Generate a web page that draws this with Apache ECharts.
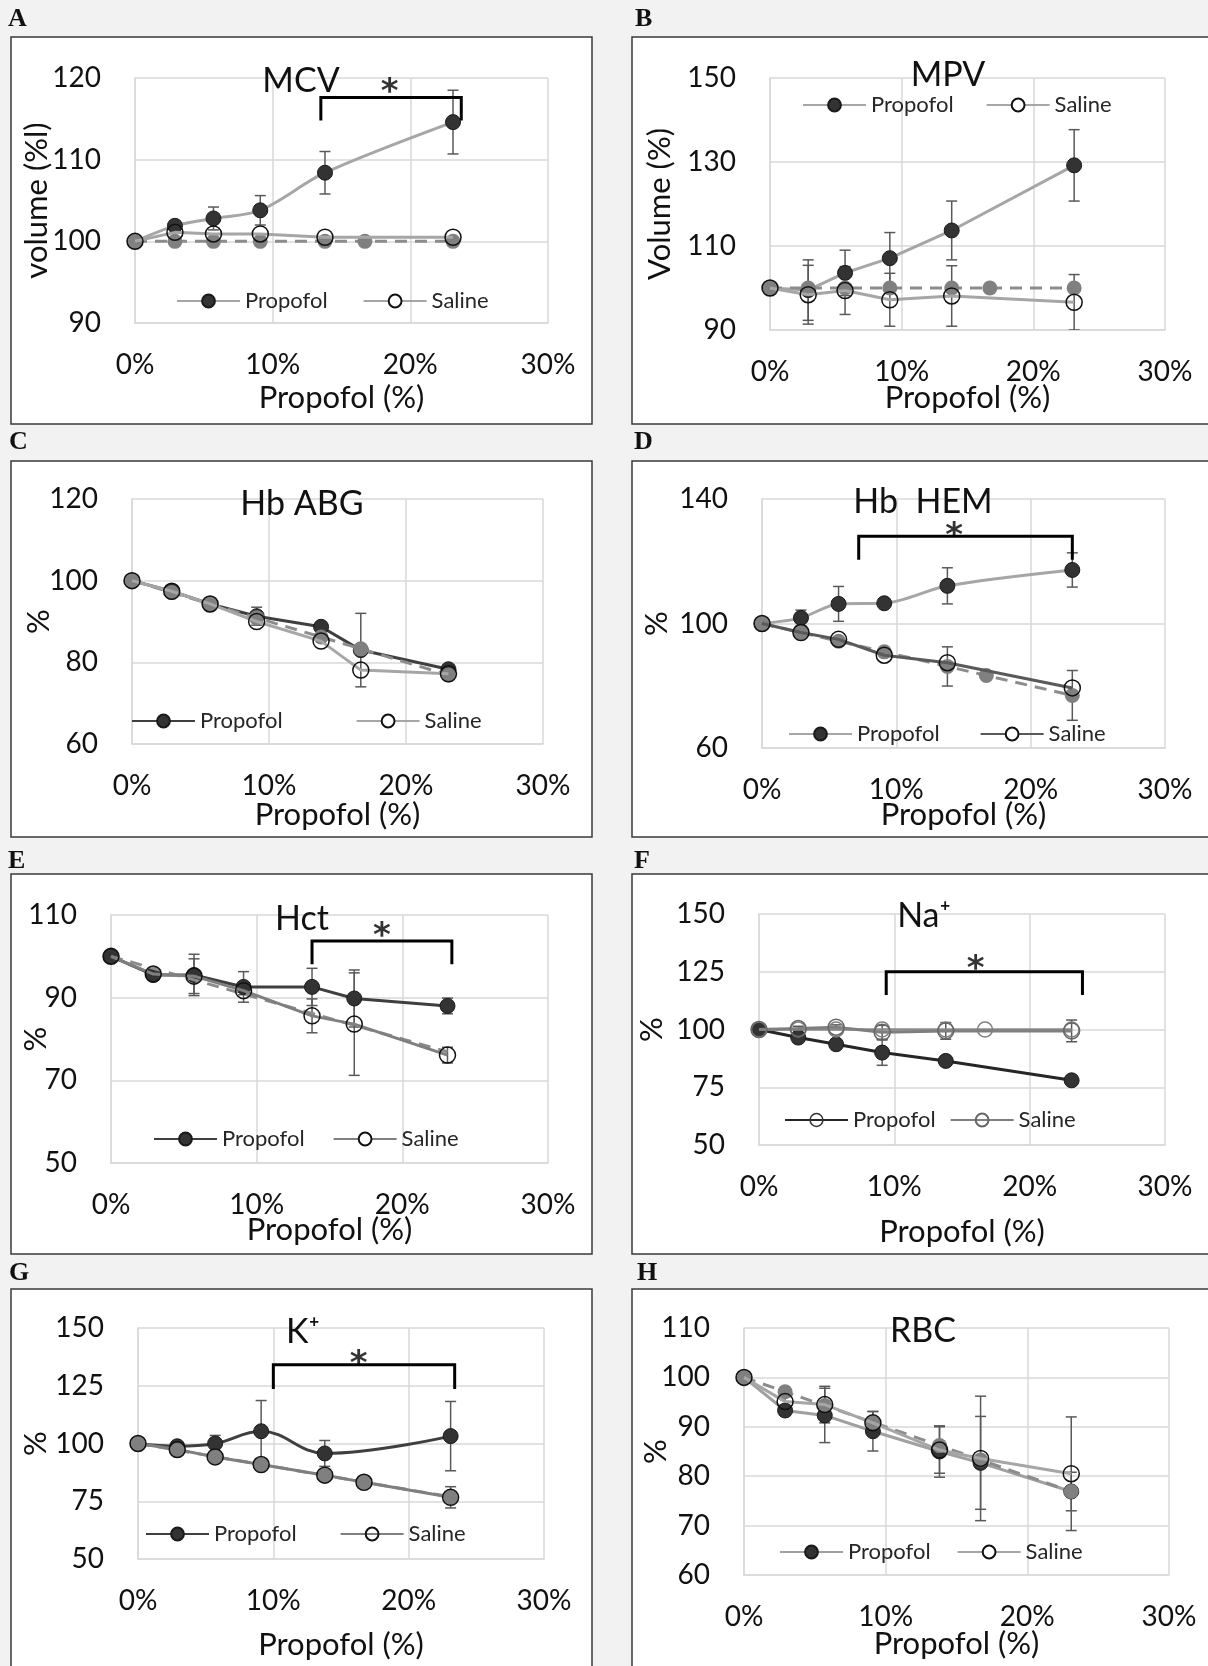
<!DOCTYPE html>
<html>
<head>
<meta charset="utf-8">
<script src="https://cdn.jsdelivr.net/npm/echarts@6/dist/echarts.min.js"></script>
<style>
  html, body { margin: 0; padding: 0; background: #f2f2f2; }
  #chart { width: 1208px; height: 1666px; }
</style>
</head>
<body>
<div id="chart"></div>
<script>
// propofol fraction of each sample (%), shared by all panels
const xPct = [0, 2.9, 5.7, 9.1, 13.8, 16.7, 23.1];

// reference lines (no change / pure dilution)
const flatRef = [100, 100, 100, 100, 100, 100, 100];
const dilutionRef = [100, 97.1, 94.3, 90.9, 86.2, 83.3, 76.9];

// A - MCV
const mcvPropofol = [100, 101.9, 102.8, 103.8, 108.4, null, 114.6];
const mcvPropofolSd = [0, 0.6, 1.4, 1.8, 2.6, 0, 3.9];
const mcvSaline = [100, 101.1, 100.9, 100.9, 100.5, null, 100.5];
const mcvBracket = [13.5, 23.7, 117.6, 114.8];
const mcvStar = [18.5, 119.6];

// B - MPV
const mpvPropofol = [100, 99.5, 103.6, 107.1, 113.7, null, 129.2];
const mpvPropofolSd = [0, 7.2, 5.4, 6.1, 7.0, 0, 8.5];
const mpvSaline = [100, 98.4, 99.4, 97.2, 98.1, null, 96.6];
const mpvSalineSd = [0, 7.0, 5.7, 6.3, 7.2, 0, 6.6];

// C - Hb ABG
const hbAbgPropofol = [100, 97.4, 94.3, 91.3, 88.7, 83.0, 78.3];
const hbAbgPropofolSd = [0, 0, 0, 2.2, 0, 9.0, 0];
const hbAbgSaline = [100, 97.4, 94.3, 90.0, 85.2, 78.1, 77.2];

// D - Hb HEM
const hbHemPropofol = [100, 101.8, 106.3, 106.5, 112.1, null, 117.2];
const hbHemPropofolSd = [0, 2.5, 5.6, 0, 5.8, 0, 5.5];
const hbHemSaline = [100, 97.1, 94.9, 89.8, 87.4, null, 79.3];
const hbHemRefSd = [0, 0, 0, 0, 6.3, 0, 8.0];
const hbHemBracket = [7.2, 23.1, 128, 120.5];
const hbHemStar = [14.3, 131.7];

// E - Hct
const hctPropofol = [100, 95.5, 95.5, 92.6, 92.6, 89.8, 88.0];
const hctPropofolSd = [0, 1.0, 5.0, 3.7, 4.5, 6.9, 1.9];
const hctSaline = [100, 95.7, 95.2, 91.7, 85.6, 83.6, 76.1];
const hctSalineSd = [0, 1.5, 4.2, 1.0, 4.1, 12.4, 1.9];
const hctBracket = [13.8, 23.4, 103.7, 98.1];
const hctStar = [18.6, 107.6];

// F - Na+
const naPropofol = [100, 96.5, 93.6, 90.0, 86.4, null, 78.0];
const naPropofolSd = [0, 0, 0, 5.5, 0, 0, 0];
const naSaline = [100, 100.4, 101.0, 98.8, 99.4, null, 99.4];
const naSalineSd = [0, 1.0, 1.0, 3.0, 3.6, 0, 4.7];
const naBracket = [9.4, 23.9, 125, 114.9];
const naStar = [16.0, 130.8];

// G - K+
const kPropofol = [100, 98.8, 100.0, 105.3, 95.7, null, 103.2];
const kPropofolSd = [0, 1.0, 3.5, 13.3, 5.6, 0, 15.0];
const kSaline = [100, 97.4, 94.2, 90.9, 86.3, 83.2, 76.7];
const kSalineSd = [0, 0, 0, 0, 2.5, 0, 4.6];
const kBracket = [10.0, 23.4, 134.1, 123.6];
const kStar = [16.3, 139.2];

// H - RBC
const rbcPropofol = [100, 93.3, 92.3, 89.1, 85.0, 82.7, 76.9];
const rbcPropofolSd = [0, 1.0, 5.5, 4.0, 5.2, 9.4, 3.9];
const rbcSaline = [100, 95.1, 94.5, 90.8, 85.3, 83.6, 80.5];
const rbcSalineSd = [0, 1.0, 3.7, 2.3, 4.7, 12.6, 11.5];

const FONT = 'Lato, "Noto Sans", "DejaVu Sans", sans-serif';
const CLEAR = 'rgba(255,255,255,0)';

// layout + look of each panel
const panels = [
  { key: 'A', title: 'MCV', yName: 'volume (%l)', y: [90, 120, 10],
    prop: mcvPropofol, propSd: mcvPropofolSd, sal: mcvSaline, ref: flatRef, refDots: true,
    bracket: mcvBracket, star: mcvStar, smooth: 0.3,
    propLine: '#a6a6a6', salLine: '#a6a6a6', salLegendFill: '#fff',
    box: [11, 37, 581, 387], letter: [8, 6], grid: [135, 78, 413, 245],
    titleAt: [301, 64], legend: [176, 290, 35], yGap: 83, xGap: 59 },
  { key: 'B', title: 'MPV', yName: 'Volume (%)', y: [90, 150, 20],
    prop: mpvPropofol, propSd: mpvPropofolSd, sal: mpvSaline, salSd: mpvSalineSd, ref: flatRef, refDots: true,
    propLine: '#a6a6a6', salLine: '#a6a6a6', salLegendFill: '#fff',
    box: [632, 37, 580, 387], letter: [635, 6], grid: [770, 78, 395, 252],
    titleAt: [948, 58], legend: [802, 94, 32], yGap: 95, xGap: 52 },
  { key: 'C', title: 'Hb ABG', yName: '%', y: [60, 120, 20],
    prop: hbAbgPropofol, propSd: hbAbgPropofolSd, sal: hbAbgSaline, ref: dilutionRef, refDots: true,
    propLine: '#3f3f3f', salLine: '#a6a6a6', salLegendFill: '#fff',
    box: [11, 461, 581, 376], letter: [9, 429], grid: [132, 499, 411, 245],
    titleAt: [302, 487], legend: [131, 710, 73], yGap: 78, xGap: 55 },
  { key: 'D', title: 'Hb  HEM', yName: '%', y: [60, 140, 40],
    prop: hbHemPropofol, propSd: hbHemPropofolSd, sal: hbHemSaline, ref: dilutionRef, refSd: hbHemRefSd, refDots: true,
    bracket: hbHemBracket, star: hbHemStar, smooth: 0.3,
    propLine: '#a6a6a6', salLine: '#595959', salLegendFill: '#fff',
    box: [632, 461, 580, 376], letter: [634, 429], grid: [762, 499, 403, 249],
    titleAt: [923, 485], legend: [788, 723, 40], yGap: 90, xGap: 51 },
  { key: 'E', title: 'Hct', yName: '%', y: [50, 110, 20],
    prop: hctPropofol, propSd: hctPropofolSd, sal: hctSaline, salSd: hctSalineSd, ref: dilutionRef, refDots: false,
    bracket: hctBracket, star: hctStar,
    propLine: '#3f3f3f', salLine: '#7f7f7f', salLegendFill: '#fff',
    box: [11, 874, 581, 380], letter: [8, 848], grid: [111, 915, 437, 248],
    titleAt: [302, 902], legend: [153, 1128, 28], yGap: 60, xGap: 51 },
  { key: 'F', title: 'Na⁺', yName: '%', y: [50, 150, 25],
    prop: naPropofol, propSd: naPropofolSd, sal: naSaline, salSd: naSalineSd, ref: flatRef, refOpen: true,
    bracket: naBracket, star: naStar,
    propLine: '#262626', salLine: '#7f7f7f', propLegendOpen: true,
    box: [632, 874, 580, 380], letter: [634, 848], grid: [759, 914, 406, 231],
    titleAt: [924, 899], legend: [784, 1109, 14], yGap: 92, xGap: 71 },
  { key: 'G', title: 'K⁺', yName: '%', y: [50, 150, 25],
    prop: kPropofol, propSd: kPropofolSd, sal: kSaline, salSd: kSalineSd, ref: dilutionRef, refDots: true,
    bracket: kBracket, star: kStar, smooth: 0.4,
    propLine: '#3f3f3f', salLine: '#7f7f7f',
    box: [11, 1289, 581, 400], letter: [9, 1260], grid: [138, 1328, 406, 231],
    titleAt: [303, 1315], legend: [145, 1523, 43], yGap: 87, xGap: 70 },
  { key: 'H', title: 'RBC', yName: '%', y: [60, 110, 10],
    prop: rbcPropofol, propSd: rbcPropofolSd, sal: rbcSaline, salSd: rbcSalineSd, ref: dilutionRef, refDots: true,
    propLine: '#a0a0a0', salLine: '#a6a6a6', salLegendFill: '#fff',
    box: [632, 1289, 580, 400], letter: [637, 1260], grid: [744, 1328, 425, 247],
    titleAt: [923, 1314], legend: [779, 1541, 26], yGap: 73, xGap: 53 }
];

const pts = (vals) => {
  const out = [];
  vals.forEach((v, i) => { if (v != null) out.push([xPct[i], v]); });
  return out;
};

const spans = (vals, sd) => {
  const out = [];
  if (!sd) return out;
  vals.forEach((v, i) => { if (v != null && sd[i]) out.push([xPct[i], v - sd[i], v + sd[i]]); });
  return out;
};

const errorBars = (i, data) => ({
  type: 'custom', xAxisIndex: i, yAxisIndex: i, z: 2, silent: true, clip: true,
  encode: { x: 0, y: [1, 2] },
  data: data,
  renderItem: (params, api) => {
    const lo = api.coord([api.value(0), api.value(1)]);
    const hi = api.coord([api.value(0), api.value(2)]);
    const w = 5.5;
    const style = { stroke: '#595959', lineWidth: 1.5 };
    return {
      type: 'group',
      children: [
        { type: 'line', shape: { x1: hi[0], y1: hi[1], x2: lo[0], y2: lo[1] }, style: style },
        { type: 'line', shape: { x1: hi[0] - w, y1: hi[1], x2: hi[0] + w, y2: hi[1] }, style: style },
        { type: 'line', shape: { x1: lo[0] - w, y1: lo[1], x2: lo[0] + w, y2: lo[1] }, style: style }
      ]
    };
  }
});

const series = [];
panels.forEach((p, i) => {
  const ax = { xAxisIndex: i, yAxisIndex: i, silent: true };
  series.push(errorBars(i, spans(p.prop, p.propSd).concat(spans(p.sal, p.salSd), spans(p.ref, p.refSd))));
  series.push(Object.assign({}, ax, {
    type: 'line', name: p.key + '|Propofol', data: pts(p.prop), smooth: p.smooth || false,
    symbol: 'circle', symbolSize: 15, z: 3,
    lineStyle: { color: p.propLine, width: 3 },
    itemStyle: { color: '#333333', borderColor: '#1a1a1a', borderWidth: 1 }
  }));
  let refStyle;
  if (p.refOpen) {
    refStyle = { symbol: 'circle', lineStyle: { color: '#8c8c8c', width: 2.5 },
      itemStyle: { color: CLEAR, borderColor: '#7f7f7f', borderWidth: 1.5 } };
  } else {
    refStyle = { symbol: p.refDots ? 'circle' : 'none', lineStyle: { color: '#8c8c8c', width: 3, type: [12, 8] },
      itemStyle: { color: '#808080', borderColor: '#808080', borderWidth: 0 } };
  }
  series.push(Object.assign({}, ax, refStyle, {
    type: 'line', name: p.key + '|ref', data: pts(p.ref), symbolSize: 15, z: 4
  }));
  series.push(Object.assign({}, ax, {
    type: 'line', name: p.key + '|Saline', data: pts(p.sal),
    symbol: 'circle', symbolSize: 16, z: 5,
    lineStyle: { color: p.salLine, width: 3 },
    itemStyle: { color: CLEAR, borderColor: p.refOpen ? '#666666' : '#111111', borderWidth: 1.5 }
  }));
  if (p.bracket) {
    const b = p.bracket;
    series.push(Object.assign({}, ax, {
      type: 'line', data: [[b[0], b[3]], [b[0], b[2]], [b[1], b[2]], [b[1], b[3]]],
      symbol: 'none', z: 6, lineStyle: { color: '#000', width: 3, join: 'miter' }
    }));
    series.push(Object.assign({}, ax, {
      type: 'scatter', data: [p.star], symbolSize: 1, z: 6,
      itemStyle: { color: CLEAR },
      label: { show: true, formatter: '*', position: 'inside', offset: [0, 12],
        fontFamily: '"DejaVu Sans", sans-serif', fontSize: 34, fontWeight: 'bold', color: '#000' }
    }));
  }
});

const axisText = { fontFamily: FONT, fontSize: 28, color: '#111' };
const nameText = { fontFamily: FONT, fontSize: 31, color: '#111' };
const gridLine = { color: '#d9d9d9', width: 1.5 };

const option = {
  backgroundColor: '#f2f2f2',
  animation: false,
  graphic: panels.map(p => ({
    type: 'rect', silent: true, z: -10,
    shape: { x: p.box[0], y: p.box[1], width: p.box[2], height: p.box[3] },
    style: { fill: '#fff', stroke: '#3a3a3a', lineWidth: 1.5 }
  })).concat(panels.map(p => ({
    type: 'text', silent: true, x: p.letter[0], y: p.letter[1],
    style: { text: p.key, fontFamily: '"Liberation Serif", serif', fontSize: 26, fontWeight: 'bold',
      fill: '#111', verticalAlign: 'top' }
  }))),
  title: panels.map(p => ({
    text: p.title, left: p.titleAt[0], top: p.titleAt[1], textAlign: 'center', padding: 0,
    textStyle: { fontFamily: FONT, fontSize: 34, fontWeight: 'normal', color: '#111' }
  })),
  legend: panels.map(p => {
    const propItem = { name: p.key + '|Propofol' };
    if (p.propLegendOpen) propItem.itemStyle = { color: CLEAR, borderColor: '#333', borderWidth: 1.5 };
    const salItem = { name: p.key + '|Saline' };
    if (p.salLegendFill) salItem.itemStyle = { color: p.salLegendFill };
    return {
      left: p.legend[0], top: p.legend[1], itemGap: p.legend[2], padding: 0,
      itemWidth: 63, itemHeight: 16, selectedMode: false,
      textStyle: { fontFamily: FONT, fontSize: 22, color: '#262626' },
      formatter: n => n.split('|')[1],
      data: [propItem, salItem]
    };
  }),
  grid: panels.map(p => ({ left: p.grid[0], top: p.grid[1], width: p.grid[2], height: p.grid[3] })),
  xAxis: panels.map((p, i) => ({
    type: 'value', gridIndex: i, min: 0, max: 30, interval: 10,
    name: 'Propofol (%)', nameLocation: 'middle', nameGap: p.xGap, nameMoveOverlap: false,
    nameTextStyle: nameText,
    axisLine: { show: true, onZero: false, lineStyle: gridLine },
    axisTick: { show: false },
    splitLine: { show: true, lineStyle: gridLine },
    axisLabel: Object.assign({ formatter: '{value}%', margin: 28 }, axisText)
  })),
  yAxis: panels.map((p, i) => ({
    type: 'value', gridIndex: i, min: p.y[0], max: p.y[1], interval: p.y[2],
    name: p.yName, nameLocation: 'middle', nameGap: p.yGap, nameRotate: 90, nameMoveOverlap: false,
    nameTextStyle: nameText,
    axisLine: { show: true, onZero: false, lineStyle: gridLine },
    axisTick: { show: false },
    splitLine: { show: true, lineStyle: gridLine },
    axisLabel: Object.assign({ margin: 34 }, axisText)
  })),
  series: series
};

const chart = echarts.init(document.getElementById('chart'), null, { renderer: 'canvas' });
chart.setOption(option);
</script>
</body>
</html>
